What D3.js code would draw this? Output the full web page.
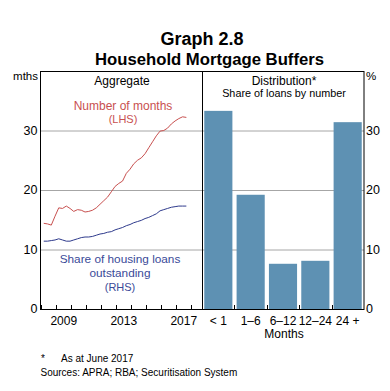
<!DOCTYPE html>
<html>
<head>
<meta charset="utf-8">
<script src="https://cdn.jsdelivr.net/npm/d3@7"></script>
<style>
  body { margin: 0; background: #fff; }
  svg { font-family: "Liberation Sans", Arial, sans-serif; }
</style>
</head>
<body>
<svg width="390" height="391"></svg>
<script>
// quarterly aggregate series
const quarters = [
  '2008-03','2008-06','2008-09','2008-12','2009-03','2009-06','2009-09','2009-12',
  '2010-03','2010-06','2010-09','2010-12','2011-03','2011-06','2011-09','2011-12',
  '2012-03','2012-06','2012-09','2012-12','2013-03','2013-06','2013-09','2013-12',
  '2014-03','2014-06','2014-09','2014-12','2015-03','2015-06','2015-09','2015-12',
  '2016-03','2016-06','2016-09','2016-12','2017-03','2017-06','2017-09'
]
const monthsBuffer = [
  14.4, 14.3, 14.1, 15.6, 17.0, 16.9, 17.3, 16.9,
  16.4, 16.7, 16.6, 16.3, 16.4, 16.6, 17.0, 17.6,
  18.2, 18.8, 19.7, 20.6, 21.1, 21.5, 22.8, 23.5,
  24.4, 25.0, 25.4, 26.1, 27.1, 28.1, 29.1, 29.9,
  30.0, 30.4, 31.1, 31.6, 32.0, 32.3, 32.2
]
const shareLoans = [
  11.4, 11.4, 11.5, 11.6, 11.8, 11.6, 11.4, 11.4,
  11.6, 11.8, 12.0, 12.1, 12.1, 12.2, 12.4, 12.6,
  12.7, 12.9, 13.0, 13.3, 13.5, 13.7, 14.0, 14.2,
  14.5, 14.7, 14.9, 15.2, 15.4, 15.7, 16.0, 16.5,
  16.7, 16.9, 17.1, 17.2, 17.3, 17.3, 17.3
]

// distribution
const buckets = ['< 1', '1\u20136', '6\u201312', '12\u201324', '24 +']
const shares = [33.3, 19.2, 7.6, 8.1, 31.4]

const yTicks = [0, 10, 20, 30]
const yearLabels = [2009, 2013, 2017]

const svg = d3.select('svg')
const parse = d3.timeParse('%Y-%m')

const plotTop = 71, plotBottom = 309, plotLeft = 40.5, plotMid = 202, plotRight = 364

const y = d3.scaleLinear().domain([0, 40]).range([plotBottom, plotTop])
const x = d3.scaleTime()
    .domain([new Date(2007, 11, 13), new Date(2018, 8, 17)])
    .range([plotLeft, plotMid])
const xb = d3.scaleBand().domain(buckets).range([plotMid, plotRight]).paddingInner(0.13).paddingOuter(0.07)

const red = '#c8504f', blue = '#2e3a8c', bar = '#5e91b3'

// title
svg.append('text').attr('x', 202).attr('y', 45).attr('text-anchor', 'middle')
    .attr('font-size', 18).attr('font-weight', 'bold').text('Graph 2.8')
svg.append('text').attr('x', 209.5).attr('y', 65).attr('text-anchor', 'middle')
    .attr('font-size', 16.7).attr('font-weight', 'bold').text('Household Mortgage Buffers')

// gridlines
svg.append('g').selectAll('line').data(yTicks.filter(d => d > 0))
    .enter().append('line')
        .attr('x1', plotLeft).attr('x2', plotRight)
        .attr('y1', d => y(d) + 0.5).attr('y2', d => y(d) + 0.5)
        .attr('stroke', '#a6a6a6').attr('stroke-width', 1)

// bars
svg.append('g').selectAll('rect').data(shares)
    .enter().append('rect')
        .attr('x', (d, i) => xb(buckets[i]))
        .attr('width', xb.bandwidth())
        .attr('y', d => y(d))
        .attr('height', d => y(0) - y(d))
        .attr('fill', bar)

// lines
const pts = quarters.map(parse)
const line = vals => d3.line().x((d, i) => x(pts[i])).y(d => y(d))(vals)
svg.append('path').attr('d', line(monthsBuffer)).attr('fill', 'none')
    .attr('stroke', red).attr('stroke-width', 1)
svg.append('path').attr('d', line(shareLoans)).attr('fill', 'none')
    .attr('stroke', blue).attr('stroke-width', 1)

// frame
const frame = svg.append('g').attr('stroke', '#000').attr('stroke-width', 1)
frame.append('rect').attr('x', plotLeft).attr('y', plotTop + 0.5)
    .attr('width', plotRight - plotLeft).attr('height', plotBottom - plotTop).attr('fill', 'none')
frame.append('line').attr('x1', plotMid + 0.5).attr('x2', plotMid + 0.5).attr('y1', plotTop).attr('y2', plotBottom)

// year ticks (inside)
const years = d3.range(2008, 2019).map(yr => new Date(yr, 0, 1))
svg.append('g').selectAll('line').data(years)
    .enter().append('line')
        .attr('x1', d => Math.round(x(d)) + 0.5).attr('x2', d => Math.round(x(d)) + 0.5)
        .attr('y1', plotBottom).attr('y2', plotBottom - 4)
        .attr('stroke', '#000')

// bar separators
svg.append('g').selectAll('line').data(buckets.slice(1))
    .enter().append('line')
        .attr('x1', d => Math.round(xb(d) - xb.step() * 0.065) + 0.5)
        .attr('x2', d => Math.round(xb(d) - xb.step() * 0.065) + 0.5)
        .attr('y1', plotBottom).attr('y2', plotBottom - 4)
        .attr('stroke', '#000')

// y labels
const axisFont = 12
svg.append('g').selectAll('text').data(yTicks)
    .enter().append('text')
        .attr('x', 37.5).attr('y', d => y(d)).attr('dy', '0.35em')
        .attr('text-anchor', 'end').attr('font-size', 12.5).text(d => d)
svg.append('g').selectAll('text').data(yTicks)
    .enter().append('text')
        .attr('x', 366).attr('y', d => y(d)).attr('dy', '0.35em')
        .attr('font-size', 12.5).text(d => d)
svg.append('text').attr('x', 38).attr('y', 80).attr('text-anchor', 'end')
    .attr('font-size', 11.5).text('mths')
svg.append('text').attr('x', 366).attr('y', 80).attr('font-size', 11.5).text('%')

// x labels
svg.append('g').selectAll('text').data(yearLabels)
    .enter().append('text')
        .attr('x', d => x(new Date(d, 6, 1))).attr('y', 325)
        .attr('text-anchor', 'middle').attr('font-size', axisFont).text(d => d)
svg.append('g').selectAll('text').data(buckets)
    .enter().append('text')
        .attr('x', d => xb(d) + xb.bandwidth() / 2).attr('y', 325)
        .attr('text-anchor', 'middle').attr('font-size', axisFont).text(d => d)
svg.append('text').attr('x', 284).attr('y', 337.5).attr('text-anchor', 'middle')
    .attr('font-size', axisFont).text('Months')

// panel annotations
svg.append('text').attr('x', 122).attr('y', 84.5).attr('text-anchor', 'middle')
    .attr('font-size', 12).text('Aggregate')
svg.append('text').attr('x', 284).attr('y', 84.5).attr('text-anchor', 'middle')
    .attr('font-size', 12).text('Distribution*')
svg.append('text').attr('x', 284).attr('y', 96.5).attr('text-anchor', 'middle')
    .attr('font-size', 10.8).text('Share of loans by number')

const redText = svg.append('text').attr('fill', red).attr('text-anchor', 'middle').attr('font-size', 12)
redText.append('tspan').attr('x', 123).attr('y', 110).text('Number of months')
redText.append('tspan').attr('x', 123).attr('y', 123).attr('font-size', 11).text('(LHS)')

const blueText = svg.append('text').attr('fill', '#3a4a98').attr('text-anchor', 'middle').attr('font-size', 11.8)
blueText.append('tspan').attr('x', 120).attr('y', 263).text('Share of housing loans')
blueText.append('tspan').attr('x', 120).attr('y', 277).text('outstanding')
blueText.append('tspan').attr('x', 120).attr('y', 291).attr('font-size', 11).text('(RHS)')

// notes
const notes = svg.append('g').attr('font-size', 10)
notes.append('text').attr('x', 41).attr('y', 362).text('*')
notes.append('text').attr('x', 61).attr('y', 362).text('As at June 2017')
notes.append('text').attr('x', 40.5).attr('y', 376).text('Sources: APRA; RBA; Securitisation System')
</script>
</body>
</html>
